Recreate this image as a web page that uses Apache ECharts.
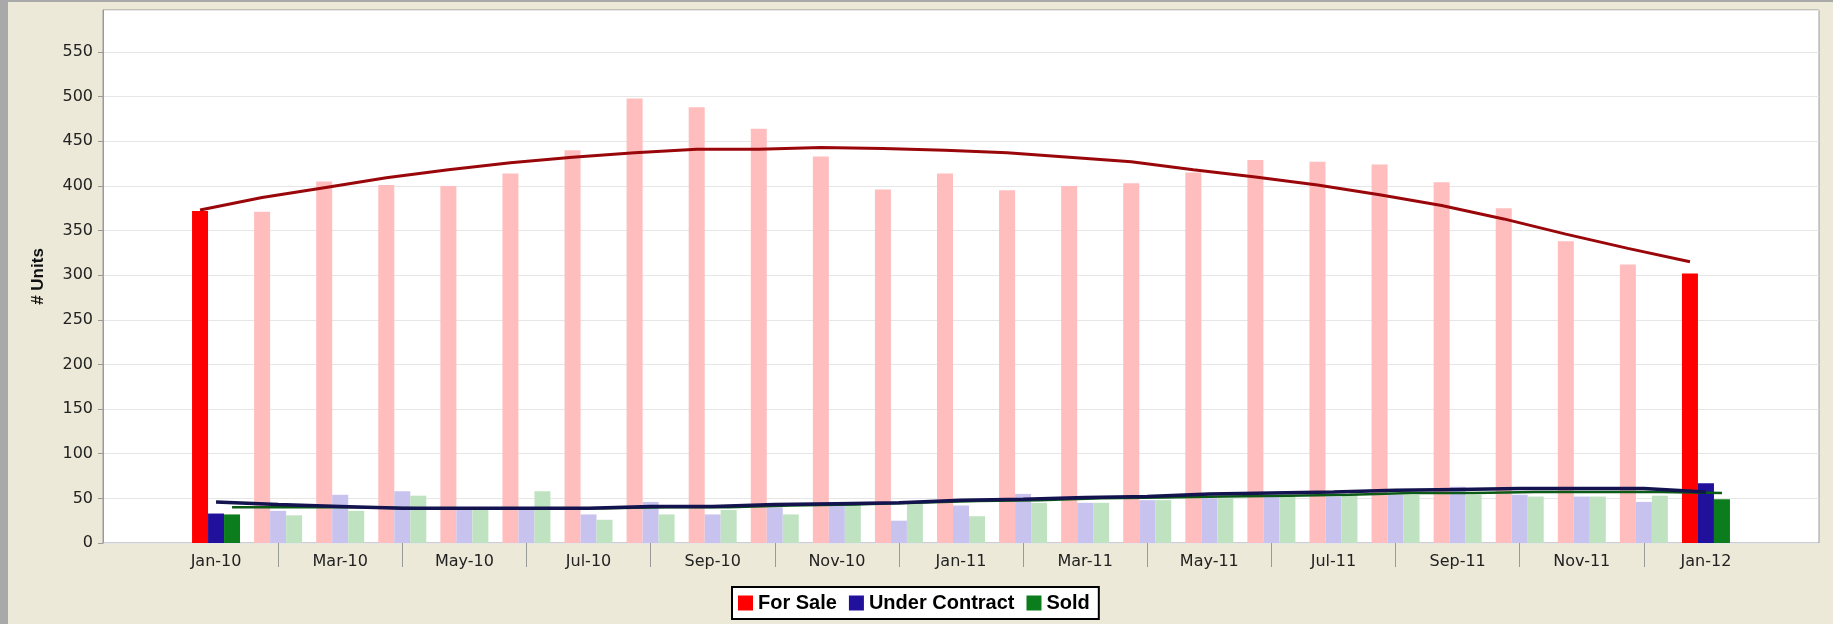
<!doctype html>
<html>
    <head>
        <meta charset="utf-8">
        <style>
            html, body { margin: 0; padding: 0; }
            #main { width: 1833px; height: 624px; }
        </style>
    </head>
    <body>
        <div id="main"></div>
        <script src="https://cdn.jsdelivr.net/npm/echarts@6/dist/echarts.min.js"></script>
        <script>
            var months = ['Jan-10', 'Feb-10', 'Mar-10', 'Apr-10', 'May-10', 'Jun-10', 'Jul-10', 'Aug-10', 'Sep-10',
                'Oct-10', 'Nov-10', 'Dec-10', 'Jan-11', 'Feb-11', 'Mar-11', 'Apr-11', 'May-11', 'Jun-11', 'Jul-11',
                'Aug-11', 'Sep-11', 'Oct-11', 'Nov-11', 'Dec-11', 'Jan-12'];

            var forSale = [372, 371, 405, 401, 400, 414, 440, 498, 488, 464, 433, 396, 414, 395, 400, 403, 415, 429, 427, 424, 404, 375, 338, 312, 302];
            var underContract = [33, 36, 54, 58, 38, 37, 32, 46, 32, 40, 46, 25, 42, 55, 45, 48, 50, 52, 52, 54, 63, 54, 52, 46, 67];
            var sold = [32, 31, 36, 53, 38, 58, 26, 32, 37, 32, 43, 44, 30, 45, 45, 48, 50, 52, 54, 54, 54, 52, 52, 53, 49];

            // trend lines
            var forSaleTrend = [373, 387, 398, 409, 418, 426, 432, 437, 441, 441, 443, 442, 440, 437, 432, 427, 418, 410, 401, 390, 378, 363, 346, 330, 315];
            var underContractTrend = [46, 43, 41, 39, 39, 39, 39, 41, 41, 43, 44, 45, 48, 49, 51, 52, 55, 56, 57, 59, 60, 61, 61, 61, 57];
            var soldTrend = [40, 40, 40, 39, 39, 39, 39, 40, 40, 42, 43, 45, 47, 48, 50, 51, 52, 53, 54, 56, 56, 57, 57, 57, 56];

            var Y_MAX = 597;

            var chart = echarts.init(document.getElementById('main'));

            // first and last month are drawn full colour, the rest faded
            function barData(values, faded) {
                return values.map(function (v, i) {
                    if (i === 0 || i === values.length - 1) {
                        return v;
                    }
                    return { value: v, itemStyle: { color: faded } };
                });
            }

            function hiddenCat(gridIndex) {
                return { type: 'category', gridIndex: gridIndex, data: months, show: false };
            }
            function hiddenY(gridIndex) {
                return { type: 'value', gridIndex: gridIndex, min: 0, max: Y_MAX, show: false };
            }

            chart.setOption({
                animation: false,
                backgroundColor: '#ece9d8',
                graphic: [
                    { type: 'rect', shape: { x: 0, y: 0, width: 8, height: 624 }, style: { fill: '#a9a9a9' } },
                    { type: 'rect', shape: { x: 0, y: 0, width: 1833, height: 2 }, style: { fill: '#a9a9a9' } }
                ],
                legend: {
                    data: ['For Sale', 'Under Contract', 'Sold'],
                    left: 732,
                    top: 587,
                    icon: 'rect',
                    itemWidth: 15,
                    itemHeight: 15,
                    itemGap: 12,
                    selectedMode: false,
                    backgroundColor: '#fff',
                    borderColor: '#000',
                    borderWidth: 2,
                    padding: [6, 9, 6, 6],
                    textStyle: {
                        fontFamily: 'Liberation Sans',
                        fontWeight: 'bold',
                        fontSize: 20,
                        color: '#000'
                    }
                },
                grid: [
                    // plot frame
                    { left: 103, right: 14, top: 10, bottom: 81, show: true, backgroundColor: '#fff', borderColor: '#9a9a9a', borderWidth: 1 },
                    // bars
                    { left: 185, right: 96, top: 10, bottom: 81 },
                    // red trend sits on the red bars (shifted left)
                    { left: 169, right: 112, top: 10, bottom: 81 },
                    // green trend sits on the green bars (shifted right)
                    { left: 201, right: 80, top: 10, bottom: 81 }
                ],
                xAxis: [
                    { type: 'value', gridIndex: 0, show: false },
                    {
                        type: 'category',
                        gridIndex: 1,
                        data: months,
                        offset: 5,
                        axisLine: { show: true, lineStyle: { opacity: 0 } },
                        axisTick: {
                            show: true,
                            alignWithLabel: true,
                            length: 24,
                            interval: function (i) { return i % 2 === 1; },
                            lineStyle: { color: '#999', width: 1 }
                        },
                        axisLabel: {
                            interval: 1,
                            margin: 6,
                            fontFamily: 'DejaVu Sans',
                            fontSize: 16,
                            color: '#222'
                        }
                    },
                    hiddenCat(2),
                    hiddenCat(3)
                ],
                yAxis: [
                    {
                        type: 'value',
                        gridIndex: 0,
                        min: 0,
                        max: Y_MAX,
                        interval: 50,
                        name: '# Units',
                        nameLocation: 'middle',
                        nameGap: 56,
                        nameTextStyle: {
                            fontFamily: 'Liberation Sans',
                            fontWeight: 'bold',
                            fontSize: 17,
                            color: '#111'
                        },
                        axisLine: { show: true, lineStyle: { color: '#9a9a9a' } },
                        axisTick: { show: true, length: 5, lineStyle: { color: '#999' } },
                        axisLabel: {
                            showMaxLabel: false,
                            margin: 10,
                            fontFamily: 'DejaVu Sans',
                            fontSize: 16,
                            color: '#222'
                        },
                        splitLine: { lineStyle: { color: '#e6e6e6' } }
                    },
                    hiddenY(1),
                    hiddenY(2),
                    hiddenY(3)
                ],
                series: [
                    {
                        name: 'For Sale',
                        type: 'bar',
                        xAxisIndex: 1,
                        yAxisIndex: 1,
                        barWidth: 16,
                        barGap: '0%',
                        itemStyle: { color: '#ff0000' },
                        data: barData(forSale, '#ffbdbd')
                    },
                    {
                        name: 'Under Contract',
                        type: 'bar',
                        xAxisIndex: 1,
                        yAxisIndex: 1,
                        barWidth: 16,
                        barGap: '0%',
                        itemStyle: { color: '#21109c' },
                        data: barData(underContract, '#c8c2ef')
                    },
                    {
                        name: 'Sold',
                        type: 'bar',
                        xAxisIndex: 1,
                        yAxisIndex: 1,
                        barWidth: 16,
                        barGap: '0%',
                        itemStyle: { color: '#0b7d1c' },
                        data: barData(sold, '#bfe3c1')
                    },
                    {
                        name: 'For Sale trend',
                        type: 'line',
                        xAxisIndex: 2,
                        yAxisIndex: 2,
                        symbol: 'none',
                        lineStyle: { color: '#9a070b', width: 3 },
                        data: forSaleTrend
                    },
                    {
                        name: 'Sold trend',
                        type: 'line',
                        xAxisIndex: 3,
                        yAxisIndex: 3,
                        symbol: 'none',
                        lineStyle: { color: '#0b5a16', width: 2.5 },
                        data: soldTrend
                    },
                    {
                        name: 'Under Contract trend',
                        type: 'line',
                        xAxisIndex: 1,
                        yAxisIndex: 1,
                        symbol: 'none',
                        lineStyle: { color: '#13134f', width: 3.5 },
                        data: underContractTrend
                    }
                ]
            });

            window.addEventListener('resize', function () {
                chart.resize();
            });
        </script>
    </body>
</html>
